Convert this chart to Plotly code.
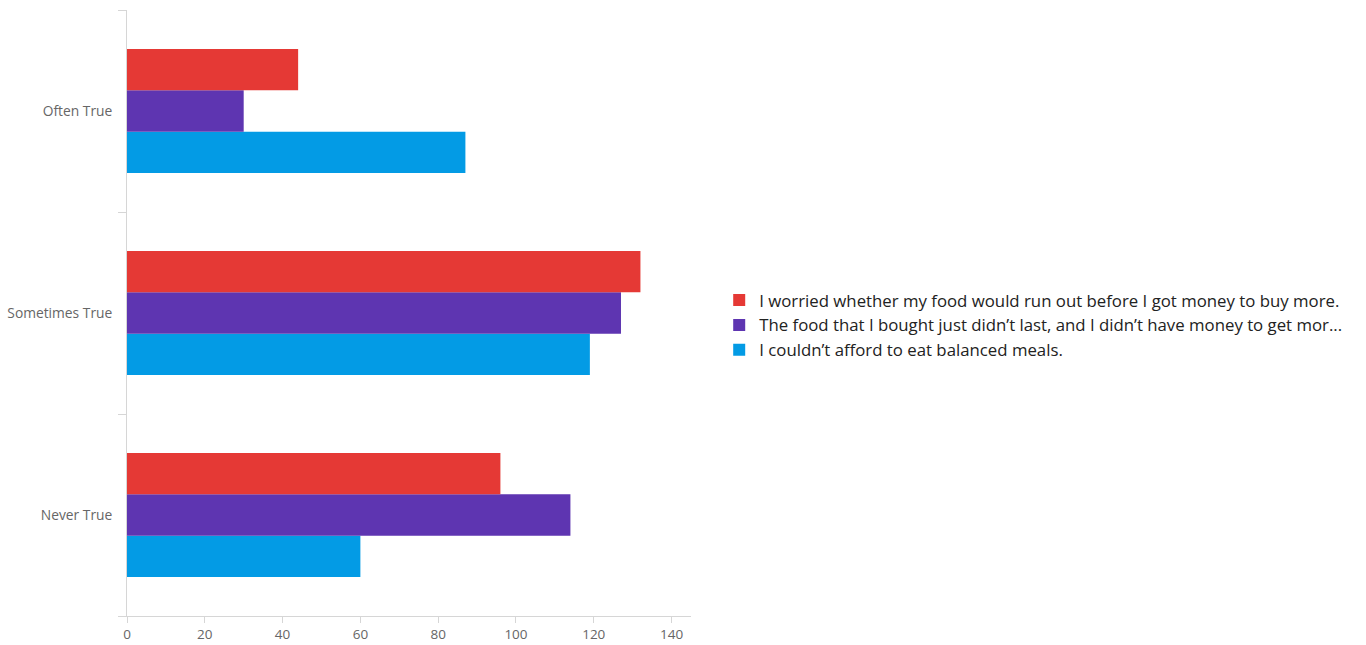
import plotly.graph_objects as go

categories = ["Often True", "Sometimes True", "Never True"]
series_names = [
    "I worried whether my food would run out before I got money to buy more.",
    "The food that I bought just didn’t last, and I didn’t have money to get mor...",
    "I couldn’t afford to eat balanced meals.",
]
worried_values = [44, 132, 96]
didnt_last_values = [30, 127, 114]
balanced_values = [87, 119, 60]
x_ticks = [0, 20, 40, 60, 80, 100, 120, 140]

colors = ["#E53935", "#5E35B1", "#039BE5"]
values = [worried_values, didnt_last_values, balanced_values]

fig = go.Figure()
# Added bottom-up so the first series sits on top of each group
for i, (name, vals, color) in reversed(list(enumerate(zip(series_names, values, colors)))):
    fig.add_trace(go.Bar(
        y=categories, x=vals, name=name, orientation="h", legendgroup=f"g{i}",
        marker=dict(color=color, line=dict(width=0)),
    ))

fig.update_layout(
    width=1366, height=645,
    paper_bgcolor="white", plot_bgcolor="white",
    margin=dict(l=127, r=675, t=10, b=29, autoexpand=False),
    barmode="group", bargap=0.385, bargroupgap=0,
    font=dict(family="Open Sans, Arial, sans-serif"),
    legend=dict(
        traceorder="reversed", x=1.05, xanchor="left", y=0.48, yanchor="middle",
        font=dict(size=16.8, color="#222"), itemclick=False,
        tracegroupgap=5.5,
    ),
    showlegend=True,
)
fig.update_xaxes(
    range=[0, 145], tickvals=x_ticks, showgrid=False, zeroline=False,
    showline=True, linecolor="#d6d6d6", linewidth=1, automargin=False,
    ticks="outside", ticklen=6, tickcolor="#d6d6d6",
    tickfont=dict(size=13.5, color="#666"),
)
fig.update_yaxes(
    categoryorder="array", categoryarray=list(reversed(categories)),
    showgrid=False, showline=True, linecolor="#d6d6d6", linewidth=1, automargin=False,
    ticks="outside", ticklen=8, tickcolor="#d6d6d6", tickson="boundaries",
    tickfont=dict(size=13.8, color="#666"), ticklabelstandoff=11,
)

fig.write_html("out.html")
